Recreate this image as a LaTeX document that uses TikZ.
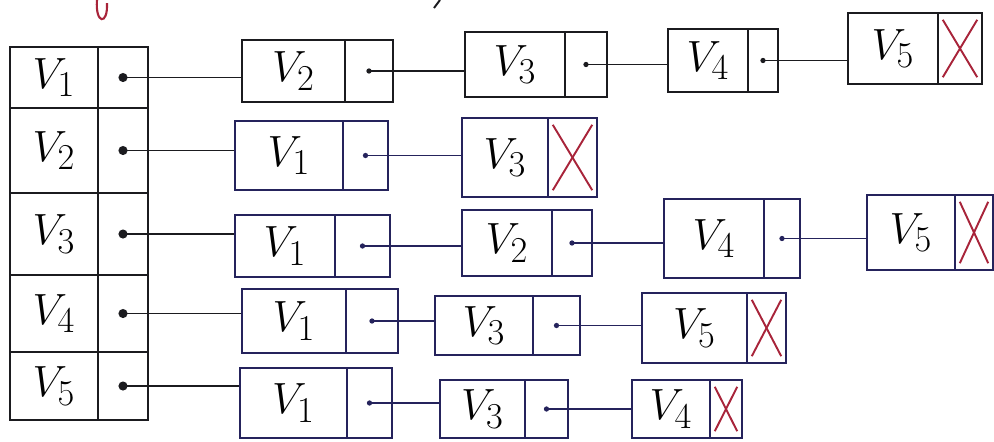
\documentclass[tikz,border=0pt]{standalone}
\usepackage{xcolor}
\usetikzlibrary{fit}
\definecolor{inkc}{HTML}{1B1B1F}
\definecolor{navyc}{HTML}{25235C}
\definecolor{nullc}{HTML}{A8243A}

\begin{document}
\begin{tikzpicture}[x=0.02cm, y=-0.02cm,
    cellbox/.style={draw=inkc, line width=1.4pt, inner sep=0pt},
    listbox/.style={cellbox, draw=navyc},
    tag/.style={label={[font=\Huge, inner sep=0pt]center:$#1$}},
    link/.style={line width=1.1pt, inkc},
    navylink/.style={link, draw=navyc},
    nullx/.style={nullc, line width=1.1pt}]
    \useasboundingbox (0,0) rectangle (994,441);
    % cut-off strokes along the top edge
    \draw[nullc, line width=1.2pt] (97,0) .. controls (95,24) and (108,26) .. (107,3);
    \draw[inkc, line width=1.1pt] (440,0) -- (434,8);
    % head table
    \foreach \i/\ya/\yb in {1/47/108, 2/108/193, 3/193/275, 4/275/352, 5/352/420} {
      \node[cellbox, tag={V_\i}, fit={(10,\ya) (98,\yb)}] (t\i) {};
      \node[cellbox, fit={(98,\ya) (148,\yb)}] (t\i p) {};
      \fill[inkc] (t\i p.center) circle (2.6pt);
    }
    % row 1
    \node[cellbox, tag=V_2, fit={(242,40) (345,102)}] (r1a) {};
    \node[cellbox, fit={(345,40) (393,102)}] (r1ap) {};
    \node[cellbox, tag=V_3, fit={(465,32) (565,97)}] (r1b) {};
    \node[cellbox, fit={(565,32) (607,97)}] (r1bp) {};
    \node[cellbox, tag=V_4, fit={(668,29) (748,92)}] (r1c) {};
    \node[cellbox, fit={(748,29) (778,92)}] (r1cp) {};
    \node[cellbox, tag=V_5, fit={(848,13) (938,84)}] (r1d) {};
    \node[cellbox, fit={(938,13) (982,84)}] (r1dp) {};
    % row 2
    \node[listbox, tag=V_1, fit={(235,121) (343,190)}] (r2a) {};
    \node[listbox, fit={(343,121) (388,190)}] (r2ap) {};
    \node[listbox, tag=V_3, fit={(462,118) (548,197)}] (r2b) {};
    \node[listbox, fit={(548,118) (597,197)}] (r2bp) {};
    % row 3
    \node[listbox, tag=V_1, fit={(235,215) (335,277)}] (r3a) {};
    \node[listbox, fit={(335,215) (390,277)}] (r3ap) {};
    \node[listbox, tag=V_2, fit={(462,210) (552,276)}] (r3b) {};
    \node[listbox, fit={(552,210) (592,276)}] (r3bp) {};
    \node[listbox, tag=V_4, fit={(664,199) (764,278)}] (r3c) {};
    \node[listbox, fit={(764,199) (800,278)}] (r3cp) {};
    \node[listbox, tag=V_5, fit={(867,195) (955,270)}] (r3d) {};
    \node[listbox, fit={(955,195) (993,270)}] (r3dp) {};
    % row 4
    \node[listbox, tag=V_1, fit={(242,289) (346,353)}] (r4a) {};
    \node[listbox, fit={(346,289) (398,353)}] (r4ap) {};
    \node[listbox, tag=V_3, fit={(435,296) (533,355)}] (r4b) {};
    \node[listbox, fit={(533,296) (580,355)}] (r4bp) {};
    \node[listbox, tag=V_5, fit={(642,293) (747,363)}] (r4c) {};
    \node[listbox, fit={(747,293) (786,363)}] (r4cp) {};
    % row 5
    \node[listbox, tag=V_1, fit={(240,368) (347,438)}] (r5a) {};
    \node[listbox, fit={(347,368) (392,438)}] (r5ap) {};
    \node[listbox, tag=V_3, fit={(440,380) (525,438)}] (r5b) {};
    \node[listbox, fit={(525,380) (568,438)}] (r5bp) {};
    \node[listbox, tag=V_4, fit={(632,380) (710,438)}] (r5c) {};
    \node[listbox, fit={(710,380) (742,438)}] (r5cp) {};
    % links from the head table
    \foreach \i/\n in {1/r1a, 2/r2a, 3/r3a, 4/r4a, 5/r5a}
      \draw[link] (t\i p.center) -- (\n.west |- t\i p.center);
    % links along the lists
    \foreach \p/\n in {r1ap/r1b, r1bp/r1c, r1cp/r1d} {
      \draw[link] (\p.center) -- (\n.west |- \p.center);
      \fill[inkc] (\p.center) circle (1.5pt);
    }
    \foreach \p/\n in {r2ap/r2b, r3ap/r3b, r3bp/r3c, r3cp/r3d, r4ap/r4b, r4bp/r4c, r5ap/r5b, r5bp/r5c} {
      \draw[navylink] (\p.center) -- (\n.west |- \p.center);
      \fill[navyc] (\p.center) circle (1.5pt);
    }
    % null pointers
    \foreach \p in {r1dp, r2bp, r3dp, r4cp, r5cp} {
      \draw[nullx] ([shift={(6,8)}]\p.north west) -- ([shift={(-6,-8)}]\p.south east);
      \draw[nullx] ([shift={(-6,8)}]\p.north east) -- ([shift={(6,-8)}]\p.south west);
    }
\end{tikzpicture}
\end{document}
